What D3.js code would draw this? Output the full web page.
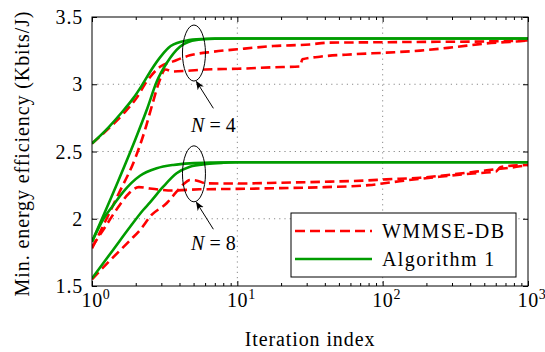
<!DOCTYPE html>
<html>
<head>
<meta charset="utf-8">
<script src="https://cdn.jsdelivr.net/npm/d3@7"></script>
<style>
    body { margin: 0; background: #fff; }
</style>
</head>
<body>
<script>
// N = 4, Algorithm 1
const algN4aIter = [1, 1.3, 1.6, 1.92, 2.2, 2.57, 2.94, 3.35, 4.25, 5.25, 7, 10, 100, 1000];
const algN4aVal = [2.56, 2.68, 2.79, 2.895, 2.99, 3.11, 3.2, 3.27, 3.32, 3.335, 3.34, 3.34, 3.34, 3.34];
const algN4bIter = [1, 1.5, 1.98, 2.4, 2.79, 3.26, 4.03, 5.25, 7, 10, 1000];
const algN4bVal = [1.83, 2.27, 2.586, 2.82, 3.02, 3.156, 3.279, 3.33, 3.338, 3.34, 3.34];
// N = 4, WMMSE-DB
const wmN4aIter = [1, 1.3, 1.64, 2.03, 2.38, 2.94, 3.62, 4.72, 6.83, 10, 17.7, 31.5, 42, 90, 200, 500, 1000];
const wmN4aVal = [2.56, 2.67, 2.78, 2.9, 3.02, 3.13, 3.17, 3.215, 3.242, 3.26, 3.284, 3.296, 3.309, 3.312, 3.315, 3.318, 3.325];
const wmN4bIter = [1, 1.5, 2, 2.3, 2.6, 2.9, 3.2, 3.6, 4.5, 6, 10, 17.7, 27, 28, 37, 63, 106, 181, 306, 520, 881, 1000];
const wmN4bVal = [1.78, 2.17, 2.46, 2.65, 2.85, 3.02, 3.11, 3.095, 3.1, 3.11, 3.115, 3.126, 3.132, 3.185, 3.205, 3.223, 3.235, 3.25, 3.275, 3.304, 3.32, 3.325];
// N = 8, Algorithm 1
const algN8aIter = [1, 1.2, 1.4, 1.64, 2.14, 2.79, 3.62, 4.72, 7, 10, 1000];
const algN8aVal = [1.83, 2.0, 2.1, 2.2, 2.32, 2.375, 2.4, 2.412, 2.418, 2.42, 2.42];
const algN8bIter = [1, 1.4, 1.83, 2.25, 2.5, 3.09, 3.82, 4.72, 6.15, 8, 10, 1000];
const algN8bVal = [1.557, 1.77, 1.94, 2.065, 2.12, 2.238, 2.338, 2.387, 2.407, 2.416, 2.42, 2.42];
// N = 8, WMMSE-DB
const wmN8aIter = [1, 1.2, 1.5, 1.8, 2.1, 2.5, 3.6, 5.5, 10, 20, 40, 80, 140, 235, 400, 600, 650, 1000];
const wmN8aVal = [1.79, 1.92, 2.08, 2.19, 2.235, 2.225, 2.21, 2.219, 2.222, 2.228, 2.235, 2.25, 2.283, 2.31, 2.335, 2.35, 2.385, 2.4];
const wmN8bIter = [1, 1.33, 1.83, 2.14, 2.57, 3.26, 3.82, 4.48, 4.72, 5.2, 6.15, 10, 20, 40, 78, 106, 181, 306, 520, 881, 1000];
const wmN8bVal = [1.55, 1.69, 1.84, 1.916, 2.028, 2.115, 2.201, 2.276, 2.288, 2.285, 2.263, 2.262, 2.268, 2.275, 2.285, 2.293, 2.305, 2.33, 2.36, 2.39, 2.4];

const xTicks = [1, 10, 100, 1000];
const xTickExp = ["0", "1", "2", "3"];
const yTicks = [1.5, 2, 2.5, 3, 3.5];
const yTickLabels = ["1.5", "2", "2.5", "3", "3.5"];
const legendNames = ["WMMSE-DB", "Algorithm 1"];

const width = 545, height = 352;
const pLeft = 92, pRight = 528, pTop = 17, pBottom = 286;
const red = "#ff0000", green = "#009c00";
const serif = "'Liberation Serif', 'DejaVu Serif', 'Times New Roman', serif";

const svg = d3.select("body").append("svg")
    .attr("width", width)
    .attr("height", height)
    .attr("font-family", serif)
    .style("font-family", serif);

const x = d3.scaleLog().domain([1, 1000]).range([pLeft, pRight]);
const y = d3.scaleLinear().domain([1.5, 3.5]).range([pBottom, pTop]);

// grid
svg.append("g").selectAll("line")
    .data([10, 100])
    .enter().append("line")
    .attr("x1", d => x(d)).attr("x2", d => x(d))
    .attr("y1", pTop).attr("y2", pBottom)
    .attr("stroke", "#8a8a8a").attr("stroke-dasharray", "1.2,4");
svg.append("g").selectAll("line")
    .data([2, 2.5, 3])
    .enter().append("line")
    .attr("x1", pLeft).attr("x2", pRight)
    .attr("y1", d => y(d)).attr("y2", d => y(d))
    .attr("stroke", "#8a8a8a").attr("stroke-dasharray", "1.2,4");

// minor ticks on log axis
const minor = [];
[1, 10, 100].forEach(dec => { for (let k = 2; k <= 9; k++) minor.push(dec * k); });

const axisStyle = g => {
    g.select(".domain").remove();
    g.selectAll(".tick line").attr("stroke", "#000");
    g.selectAll(".tick text").remove();
};

svg.append("g").attr("transform", `translate(0,${pBottom})`)
    .call(d3.axisBottom(x).tickValues(xTicks).tickSize(-5)).call(axisStyle);
svg.append("g").attr("transform", `translate(0,${pBottom})`)
    .call(d3.axisBottom(x).tickValues(minor).tickSize(-3)).call(axisStyle);
svg.append("g").attr("transform", `translate(0,${pTop})`)
    .call(d3.axisTop(x).tickValues(xTicks).tickSize(-5)).call(axisStyle);
svg.append("g").attr("transform", `translate(0,${pTop})`)
    .call(d3.axisTop(x).tickValues(minor).tickSize(-3)).call(axisStyle);
svg.append("g").attr("transform", `translate(${pLeft},0)`)
    .call(d3.axisLeft(y).tickValues(yTicks).tickSize(-5)).call(axisStyle);
svg.append("g").attr("transform", `translate(${pRight},0)`)
    .call(d3.axisRight(y).tickValues(yTicks).tickSize(-5)).call(axisStyle);

// series
const line = d3.line()
    .x(d => x(d[0]))
    .y(d => y(d[1]))
    .curve(d3.curveMonotoneX);

const series = [
    { it: wmN4aIter, v: wmN4aVal, color: red, dash: "9.5,5" },
    { it: wmN4bIter, v: wmN4bVal, color: red, dash: "9.5,5" },
    { it: wmN8aIter, v: wmN8aVal, color: red, dash: "9.5,5" },
    { it: wmN8bIter, v: wmN8bVal, color: red, dash: "9.5,5" },
    { it: algN4aIter, v: algN4aVal, color: green, dash: null },
    { it: algN4bIter, v: algN4bVal, color: green, dash: null },
    { it: algN8aIter, v: algN8aVal, color: green, dash: null },
    { it: algN8bIter, v: algN8bVal, color: green, dash: null }
];

svg.append("clipPath").attr("id", "clip")
    .append("rect").attr("x", pLeft).attr("y", pTop)
    .attr("width", pRight - pLeft).attr("height", pBottom - pTop);

svg.append("g").attr("clip-path", "url(#clip)")
    .selectAll("path")
    .data(series)
    .enter().append("path")
    .attr("d", s => line(s.it.map((t, i) => [t, s.v[i]])))
    .attr("fill", "none")
    .attr("stroke", s => s.color)
    .attr("stroke-width", 2.6)
    .attr("stroke-dasharray", s => s.dash);

// frame
svg.append("rect")
    .attr("x", pLeft).attr("y", pTop)
    .attr("width", pRight - pLeft).attr("height", pBottom - pTop)
    .attr("fill", "none").attr("stroke", "#000").attr("stroke-width", 1);

// tick labels
const xl = svg.append("g").selectAll("text")
    .data(xTicks)
    .enter().append("text")
    .attr("x", d => x(d) + 4)
    .attr("y", pBottom + 21)
    .attr("text-anchor", "middle")
    .style("font-size", "20px")
    .style("letter-spacing", "0.6px");
xl.append("tspan").text("10");
xl.append("tspan").attr("dy", -8).style("font-size", "14px").text((d, i) => xTickExp[i]);

svg.append("g").selectAll("text")
    .data(yTicks)
    .enter().append("text")
    .attr("x", pLeft - 9)
    .attr("y", d => y(d))
    .attr("dy", "0.35em")
    .attr("text-anchor", "end")
    .style("font-size", "20px")
    .style("letter-spacing", "0.8px")
    .text((d, i) => yTickLabels[i]);

// axis titles
svg.append("text")
    .attr("x", (pLeft + pRight) / 2)
    .attr("y", 346)
    .attr("text-anchor", "middle")
    .style("font-size", "20px")
    .style("letter-spacing", "0.9px")
    .text("Iteration index");

svg.append("text")
    .attr("transform", `translate(29,${(pTop + pBottom) / 2 + 2}) rotate(-90)`)
    .attr("text-anchor", "middle")
    .style("font-size", "20px")
    .style("letter-spacing", "0.9px")
    .text("Min. energy efficiency (Kbits/J)");

// annotations
svg.append("defs").append("marker")
    .attr("id", "arrow")
    .attr("viewBox", "0 0 10 10")
    .attr("refX", 9).attr("refY", 5)
    .attr("markerWidth", 9).attr("markerHeight", 9)
    .attr("orient", "auto")
    .append("path")
    .attr("d", "M0,1 L10,5 L0,9 L3,5 Z")
    .attr("fill", "#000");

const notes = [
    { cx: 5.03, cy: 3.232, tailX: 6.84, tailY: 2.821, headY: 3.02, labY: 2.645, n: "4" },
    { cx: 5.03, cy: 2.334, tailX: 6.84, tailY: 1.922, headY: 2.122, labY: 1.77, n: "8" }
];

notes.forEach(a => {
    svg.append("ellipse")
        .attr("cx", x(a.cx)).attr("cy", y(a.cy))
        .attr("rx", 11.5).attr("ry", 28)
        .attr("fill", "none").attr("stroke", "#000").attr("stroke-width", 1);
    svg.append("line")
        .attr("x1", x(a.tailX)).attr("y1", y(a.tailY))
        .attr("x2", x(a.cx) + 2.5).attr("y2", y(a.headY))
        .attr("stroke", "#000").attr("stroke-width", 1)
        .attr("marker-end", "url(#arrow)");
    const t = svg.append("text")
        .attr("x", x(a.tailX))
        .attr("y", y(a.labY))
        .attr("text-anchor", "middle")
        .style("font-size", "20px");
    t.append("tspan").style("font-style", "italic").text("N");
    t.append("tspan").text(" = " + a.n);
});

// legend
const lg = svg.append("g");
lg.append("rect")
    .attr("x", 291).attr("y", 213)
    .attr("width", 225).attr("height", 64)
    .attr("fill", "#fff").attr("stroke", "#000").attr("stroke-width", 1);

const items = lg.selectAll("g.item")
    .data(legendNames)
    .enter().append("g")
    .attr("transform", (d, i) => `translate(0,${231 + i * 28})`);
items.append("line")
    .attr("x1", 295).attr("x2", 372)
    .attr("stroke", (d, i) => i === 0 ? red : green)
    .attr("stroke-width", 2.6)
    .attr("stroke-dasharray", (d, i) => i === 0 ? "10,5" : null);
items.append("text")
    .attr("x", 382)
    .attr("dy", "0.35em")
    .style("font-size", "20px")
    .style("letter-spacing", "1.4px")
    .text(d => d);
</script>
</body>
</html>
